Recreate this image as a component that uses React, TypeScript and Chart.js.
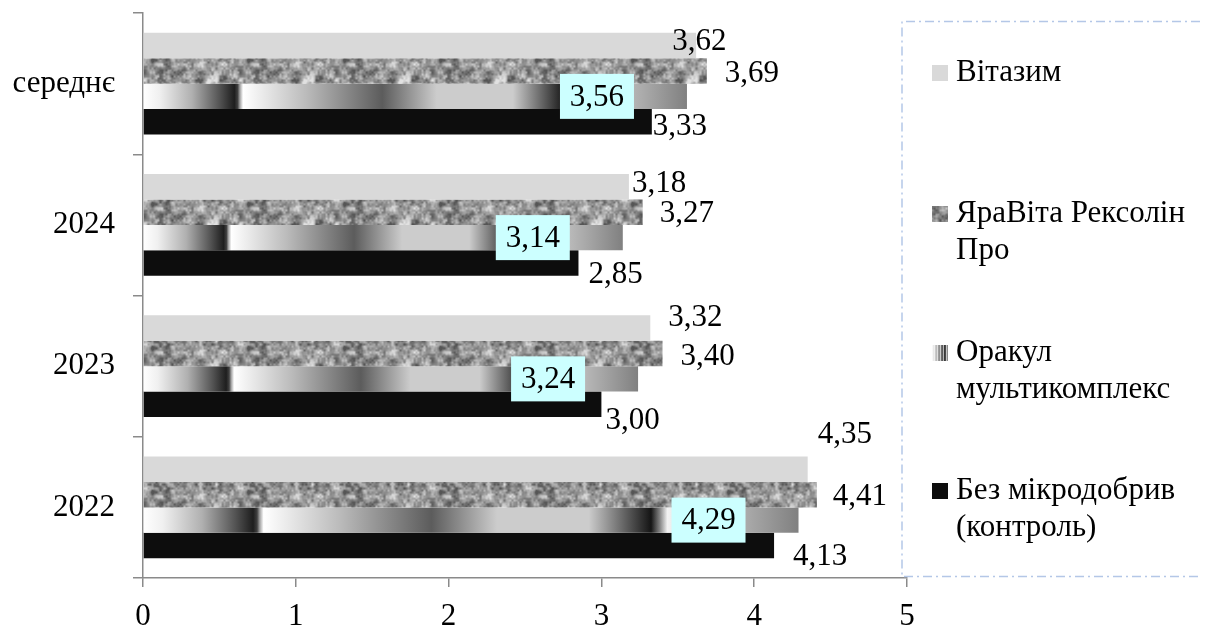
import { useEffect, useRef } from 'react';
import { Chart, registerables } from 'chart.js';

Chart.register(...registerables);

// ---- data ----
const categories = ['середнє', '2024', '2023', '2022'];
const seriesNames = ['Вітазим', 'ЯраВіта Рексолін Про', 'Оракул мультикомплекс', 'Без мікродобрив (контроль)'];
const legendLines = [['Вітазим'], ['ЯраВіта Рексолін', 'Про'], ['Оракул', 'мультикомплекс'], ['Без мікродобрив', '(контроль)']];
const vitazim = [3.62, 3.18, 3.32, 4.35];
const yaravita = [3.69, 3.27, 3.4, 4.41];
const orakul = [3.56, 3.14, 3.24, 4.29];
const control = [3.33, 2.85, 3.0, 4.13];
const xMin = 0;
const xMax = 5;
const xStep = 1;

// ---- style ----
const FONT = '"Liberation Serif", "Times New Roman", serif';
const FS = 31;
const AXIS = '#8a8a8a';
const labelDx = [[-24, 3, 18, 10], [18, 17, 18, 16], [0, 0, 0, 0], [1, 10, 4, 19]];
const labelDy = [[-4, -3, -10, -34], [3, 2, 3, 2], [0, 0, 0, 0], [5, 12, 16, 11]];
const boxDx = -90;
const boxW = 74;
const boxH = 45;

const fmt = (v: number) => v.toFixed(2).replace('.', ',');

function makeNoiseCanvas() {
  const w = 96, h = 48;
  const c = document.createElement('canvas');
  c.width = w; c.height = h;
  const g = c.getContext('2d')!;
  const img = g.createImageData(w, h);
  let seed = 987654;
  const rnd = () => { seed = (seed * 1103515245 + 12345) & 0x7fffffff; return seed / 0x7fffffff; };
  const octave = (cell: number) => {
    const gw = w / cell, gh = h / cell;
    const grid: number[] = [];
    for (let i = 0; i < gw * gh; i++) grid.push(rnd());
    const at = (i: number, j: number) => grid[(((j % gh) + gh) % gh) * gw + (((i % gw) + gw) % gw)];
    return (x: number, y: number) => {
      const fx = x / cell, fy = y / cell;
      const x0 = Math.floor(fx), y0 = Math.floor(fy);
      let tx = fx - x0, ty = fy - y0;
      tx = tx * tx * (3 - 2 * tx); ty = ty * ty * (3 - 2 * ty);
      const a = at(x0, y0), b = at(x0 + 1, y0), cc = at(x0, y0 + 1), d = at(x0 + 1, y0 + 1);
      return (a * (1 - tx) + b * tx) * (1 - ty) + (cc * (1 - tx) + d * tx) * ty;
    };
  };
  const o1 = octave(8), o2 = octave(4), o3 = octave(2);
  for (let y = 0; y < h; y++) {
    for (let x = 0; x < w; x++) {
      let v = 0.35 * o1(x, y) + 0.4 * o2(x, y) + 0.25 * o3(x, y);
      v = (v - 0.5) * 1.6 + 0.5;
      v = Math.max(0, Math.min(1, v));
      const gray = Math.round(85 + v * 140);
      const k = (y * w + x) * 4;
      img.data[k] = gray; img.data[k + 1] = gray; img.data[k + 2] = gray; img.data[k + 3] = 255;
    }
  }
  g.putImageData(img, 0, 0);
  return c;
}

const oracleStops: [number, string][] = [
  [0, '#ffffff'], [0.03, '#f0f0f0'], [0.09, '#b0b0b0'], [0.14, '#555555'], [0.168, '#1e1e1e'],
  [0.174, '#404040'], [0.178, '#a0a0a0'], [0.184, '#ffffff'], [0.3, '#bbbbbb'], [0.44, '#5c5c5c'],
  [0.54, '#cccccc'], [0.68, '#cccccc'], [0.775, '#151515'], [0.788, '#808080'], [0.8, '#f2f2f2'],
  [0.86, '#c8c8c8'], [0.92, '#aaaaaa'], [1, '#808080'],
];

export default function App() {
  const ref = useRef<HTMLCanvasElement | null>(null);

  useEffect(() => {
    const canvas = ref.current;
    if (!canvas) return;
    const noise = makeNoiseCanvas();
    const ctx0 = canvas.getContext('2d')!;
    const noisePattern = ctx0.createPattern(noise, 'repeat')!;

    const oracleFill = (c: any) => {
      const chart = c.chart;
      const xs = chart.scales && chart.scales.x;
      if (c.type !== 'data' || !xs) return '#aaaaaa';
      const x0 = xs.getPixelForValue(0);
      const x1 = xs.getPixelForValue(c.raw as number);
      if (!isFinite(x0) || !isFinite(x1) || x1 - x0 < 1) return '#aaaaaa';
      const g = chart.ctx.createLinearGradient(x0, 0, x1, 0);
      oracleStops.forEach(([o, col]) => g.addColorStop(o, col));
      return g;
    };

    const labelPlugin = {
      id: 'valueLabels',
      afterDatasetsDraw(chart: any) {
        const ctx = chart.ctx as CanvasRenderingContext2D;
        ctx.save();
        ctx.font = `${FS}px ${FONT}`;
        ctx.textBaseline = 'middle';
        chart.data.datasets.forEach((ds: any, di: number) => {
          const meta = chart.getDatasetMeta(di);
          meta.data.forEach((bar: any, i: number) => {
            const text = fmt(ds.data[i]);
            if (di === 2) {
              const cx = bar.x + boxDx;
              ctx.fillStyle = '#ccffff';
              ctx.fillRect(cx - boxW / 2, bar.y - boxH / 2, boxW, boxH);
              ctx.fillStyle = '#000000';
              ctx.textAlign = 'center';
              ctx.fillText(text, cx, bar.y + 1);
            } else {
              ctx.fillStyle = '#000000';
              ctx.textAlign = 'left';
              ctx.fillText(text, bar.x + labelDx[di][i], bar.y + labelDy[di][i]);
            }
          });
        });
        ctx.restore();
      },
    };

    const legendPlugin = {
      id: 'customLegend',
      afterDraw(chart: any) {
        const ctx = chart.ctx as CanvasRenderingContext2D;
        ctx.save();
        ctx.strokeStyle = '#b4c7e7';
        ctx.lineWidth = 1.5;
        ctx.setLineDash([9, 4, 2, 4]);
        ctx.beginPath();
        ctx.moveTo(1200, 21.5);
        ctx.lineTo(902, 21.5);
        ctx.lineTo(902, 576.5);
        ctx.lineTo(1200, 576.5);
        ctx.stroke();
        ctx.setLineDash([]);
        const tops = [73, 214, 353, 491];
        ctx.font = `${FS}px ${FONT}`;
        ctx.textBaseline = 'middle';
        ctx.textAlign = 'left';
        legendLines.forEach((lines, k) => {
          const cy = tops[k];
          const mx = 932, my = cy - 8, ms = 16;
          if (k === 0) { ctx.fillStyle = '#d9d9d9'; ctx.fillRect(mx, my, ms, ms); }
          else if (k === 1) { ctx.fillStyle = noisePattern; ctx.fillRect(mx, my, ms, ms); }
          else if (k === 2) {
            const g = ctx.createLinearGradient(mx, 0, mx + ms, 0);
            g.addColorStop(0, '#ffffff'); g.addColorStop(0.5, '#888888'); g.addColorStop(0.8, '#333333'); g.addColorStop(1, '#999999');
            ctx.fillStyle = g; ctx.fillRect(mx, my, ms, ms);
            ctx.fillStyle = 'rgba(255,255,255,0.6)';
            for (let s = 2; s < ms; s += 3) ctx.fillRect(mx + s, my, 1, ms);
          } else { ctx.fillStyle = '#0d0d0d'; ctx.fillRect(mx, my, ms, ms); }
          ctx.fillStyle = '#000000';
          lines.forEach((ln, li) => ctx.fillText(ln, 956, cy + li * 37));
        });
        ctx.restore();
      },
    };

    const chart = new Chart(canvas, {
      type: 'bar',
      data: {
        labels: categories,
        datasets: [
          { label: seriesNames[0], data: vitazim, backgroundColor: '#d9d9d9' },
          { label: seriesNames[1], data: yaravita, backgroundColor: noisePattern as any },
          { label: seriesNames[2], data: orakul, backgroundColor: oracleFill as any },
          { label: seriesNames[3], data: control, backgroundColor: '#0d0d0d' },
        ],
      },
      options: {
        indexAxis: 'y',
        animation: false,
        responsive: true,
        maintainAspectRatio: false,
        datasets: { bar: { categoryPercentage: 0.722, barPercentage: 1, borderWidth: 0 } },
        layout: { padding: { left: 0, top: 13, right: 300, bottom: 0 } },
        plugins: { legend: { display: false }, tooltip: { enabled: false } },
        scales: {
          x: {
            type: 'linear',
            min: xMin,
            max: xMax,
            ticks: { stepSize: xStep, color: '#000', font: { family: FONT, size: FS }, padding: 11, callback: (v: any) => String(v) },
            grid: { drawOnChartArea: false, drawTicks: true, tickLength: 9, color: AXIS, lineWidth: 1.5 },
            border: { color: AXIS, width: 1.5 },
            afterFit: (s: any) => { s.height = 50; s.paddingLeft = 0; s.paddingRight = 0; },
          },
          y: {
            type: 'category',
            ticks: { color: '#000', font: { family: FONT, size: FS }, padding: 18 },
            grid: { offset: true, drawOnChartArea: false, drawTicks: true, tickLength: 10, color: AXIS, lineWidth: 1.5 },
            border: { color: AXIS, width: 1.5 },
            afterFit: (s: any) => { s.width = 143; s.paddingTop = 0; s.paddingBottom = 0; },
          },
        },
      },
      plugins: [labelPlugin, legendPlugin],
    });
    return () => chart.destroy();
  }, []);

  return (
    <div style={{ position: 'fixed', left: 0, top: 0, width: 1207, height: 628, background: '#fff' }}>
      <canvas ref={ref} />
    </div>
  );
}
